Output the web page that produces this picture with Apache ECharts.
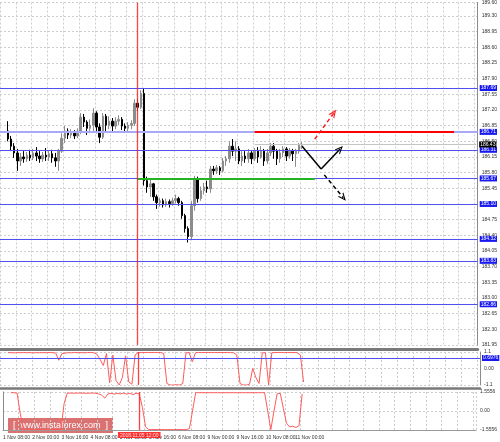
<!DOCTYPE html>
<html><head><meta charset="utf-8">
<script src="https://cdn.jsdelivr.net/npm/echarts@6/dist/echarts.min.js"></script>
<style>html,body{margin:0;padding:0;background:#fff}#c{width:500px;height:442px}</style>
</head><body><div id="c"></div>
<script>
// ---------- data ----------
const categoryCount = 151;
const candleStart = 2;
// [open, close, low, high]
const ohlc = [
[186.73,186.55,186.50,186.95],[186.55,186.39,186.28,186.62],[186.39,186.24,186.13,186.46],[186.24,186.06,185.84,186.33],
[186.06,186.15,185.95,186.24],[186.15,186.11,186.02,186.28],[186.11,186.19,186.04,186.26],[186.19,186.13,186.06,186.31],
[186.13,186.24,186.08,186.33],[186.24,186.17,186.06,186.37],[186.17,186.11,186.02,186.28],[186.11,186.19,186.04,186.26],
[186.19,186.15,186.06,186.35],[186.15,186.22,186.06,186.28],[186.22,186.13,186.02,186.31],[186.13,186.06,185.93,186.24],
[186.06,186.28,185.84,186.33],[186.28,186.57,186.24,186.68],[186.57,186.73,186.46,186.84],[186.73,186.64,186.55,186.79],
[186.64,186.68,186.57,186.77],[186.68,186.62,186.55,186.75],[186.62,186.73,186.57,186.79],[186.73,187.04,186.66,187.13],
[187.04,186.93,186.82,187.11],[186.93,186.79,186.64,186.97],[186.79,186.86,186.68,186.99],[186.86,187.13,186.73,187.24],
[187.13,186.82,186.68,187.17],[186.82,186.59,186.46,186.90],[186.59,187.06,186.55,187.13],[187.06,186.86,186.73,187.11],
[186.86,186.95,186.77,187.06],[186.95,186.84,186.73,187.02],[186.84,186.95,186.77,187.04],[186.95,186.99,186.86,187.08],
[186.99,186.84,186.75,187.04],[186.84,186.79,186.70,186.90],[186.79,186.86,186.73,186.93],[186.86,186.90,186.77,186.97],
[186.90,187.35,186.84,187.44],[187.35,187.26,187.17,187.44],[187.26,187.57,187.22,187.64],[187.57,185.62,185.51,187.68],
[185.62,185.48,185.35,185.71],[185.48,185.55,185.26,185.66],[185.55,185.26,185.17,185.57],[185.26,185.13,184.99,185.31],
[185.13,185.17,185.04,185.24],[185.17,185.08,185.02,185.22],[185.08,185.15,185.04,185.22],[185.15,185.11,185.02,185.20],
[185.11,185.17,185.06,185.24],[185.17,185.22,185.11,185.31],[185.22,185.13,185.06,185.26],[185.13,184.84,184.77,185.17],
[184.84,184.55,184.46,184.88],[184.55,184.37,184.24,184.60],[184.37,185.06,184.29,185.17],[185.06,185.66,184.95,185.73],
[185.66,185.22,185.13,185.71],[185.22,185.40,185.17,185.49],[185.40,185.48,185.31,185.57],[185.48,185.44,185.35,185.62],
[185.44,185.88,185.35,185.95],[185.88,185.84,185.75,185.95],[185.84,185.91,185.77,185.97],[185.91,185.84,185.75,185.95],
[185.84,186.06,185.80,186.13],[186.06,186.11,185.95,186.17],[186.11,186.39,186.02,186.50],[186.39,186.28,186.17,186.55],
[186.28,186.33,186.06,186.50],[186.33,186.06,185.99,186.39],[186.06,186.17,185.95,186.28],[186.17,186.11,186.02,186.28],
[186.11,186.24,186.02,186.33],[186.24,186.11,185.99,186.28],[186.11,186.28,186.06,186.35],[186.28,186.15,186.02,186.37],
[186.15,186.28,186.11,186.39],[186.28,186.06,185.95,186.33],[186.06,186.24,185.99,186.33],[186.24,186.39,186.17,186.46],
[186.39,186.28,186.11,186.46],[186.28,186.11,185.97,186.33],[186.11,186.24,186.02,186.33],[186.24,186.33,186.15,186.39],
[186.33,186.17,186.06,186.37],[186.17,186.28,186.11,186.35],[186.28,186.22,186.06,186.33],[186.22,186.28,185.93,186.33],
[186.28,186.41,186.22,186.46],[186.41,186.43,186.33,186.48]
];
const osc1 = [
1.05,1.06,1.04,1.06,1.05,1.07,1.05,1.06,1.04,1.06,1.05,1.06,1.05,1.07,1.05,1.04,0.55,1.0,1.02,1.06,
1.05,1.07,1.05,1.06,1.05,1.06,1.07,1.05,0.95,0.6,0.2,1.0,-0.95,0.9,-0.8,-1.1,-0.6,0.85,-0.9,-1.05,
0.9,1.06,1.07,1.06,1.07,1.06,1.07,1.06,1.07,1.0,-1.0,-1.1,-1.1,-1.08,-1.1,-1.0,1.05,1.06,0.45,1.05,
1.07,1.06,1.07,1.07,1.06,1.07,1.06,1.07,1.06,1.07,1.06,1.05,0.9,-1.0,-1.1,-1.1,-1.05,0.0,-0.6,-1.0,
1.05,1.05,-1.1,1.05,1.06,1.07,1.07,1.06,1.07,1.06,1.07,1.05,0.9,-0.9
];
const osc2 = [
1.5,1.5,1.45,-0.2,-1.52,-1.52,-1.52,-1.52,-1.52,-1.52,-1.52,-1.52,-1.52,-1.52,-1.52,-1.52,-1.52,0.6,1.45,1.47,
1.45,1.47,1.46,1.47,1.45,1.46,1.47,1.45,1.4,1.3,1.05,1.4,1.45,1.38,1.45,1.4,1.47,1.38,1.45,1.35,
1.45,1.4,0.3,-1.3,-1.52,-1.52,-1.52,-1.52,-1.52,-1.52,-1.52,-1.52,-1.52,-1.52,-1.52,-1.52,-1.52,-1.45,0.0,1.5,
1.5,1.5,1.5,1.5,1.5,1.5,1.5,1.5,1.5,1.5,1.5,1.5,1.5,1.5,1.5,1.5,1.5,1.5,1.5,1.5,
1.5,1.5,0.0,-1.52,0.0,1.4,1.45,0.2,-1.0,-1.3,-1.25,-1.35,-1.2,1.4
];
const levels = [187.69, 186.71, 186.31, 185.67, 185.10, 184.32, 183.83, 182.86];
const currentPrice = 186.43;
const eventIndex = 43;
const eventLabel = '2018.11.05 12:00';
const resistance = {from: 80, to: 143, value: 186.71};
const support = {from: 43, to: 99, value: 185.67};
const mainPath = [[95, 186.39], [101, 185.88], [107, 186.33]];
const downPath = [[102, 185.75], [108, 185.24]];
const upPath = [[99, 186.55], [105, 187.13]];
const osc1Level = 0.6976;
const timeLabels = ['1 Nov 08:00','2 Nov 00:00','3 Nov 16:00','4 Nov 08:00','5 Nov 00:00','5 Nov 16:00','6 Nov 08:00','9 Nov 00:00','9 Nov 16:00','10 Nov 08:00','11 Nov 00:00'];
const priceAxis = {min: 181.95, max: 189.60, step: 0.35};

// ---------- build ----------
const FONT = 'Liberation Sans';
const categories = Array.from({length: categoryCount}, (_, i) => String(i));
const pad = Array(candleStart).fill('-');
const candleData = pad.map(() => ['-','-','-','-']).concat(ohlc);
const osc1Data = pad.concat(osc1);
const osc2Data = pad.concat(osc2);
const labelStep = 30 / (486 / categoryCount);

const grid0 = {left: -6, right: 20, top: 0, height: 345};
const grid1 = {left: -6, right: 20, top: 352, height: 33};
const grid2 = {left: -6, right: 20, top: 392, height: 38};

const dashed = {show: true, lineStyle: {color: '#cdcdcd', type: [2, 2], width: 1}};
function catAxis(gi, lineColor, lineWidth, offset) {
  return {type: 'category', gridIndex: gi, data: categories, boundaryGap: true, position: 'bottom', offset: offset,
    axisLine: {show: true, onZero: false, lineStyle: {color: lineColor, width: lineWidth}},
    axisTick: {show: false}, axisLabel: {show: false},
    splitLine: Object.assign({interval: 4}, dashed)};
}
function valAxis(gi, min, max, interval, fmt) {
  return {type: 'value', gridIndex: gi, position: 'right', min: min, max: max, interval: interval,
    axisLine: {show: true, lineStyle: {color: '#8a8a8a', width: 1}},
    axisTick: {show: false},
    axisLabel: {fontSize: 5, fontFamily: FONT, color: '#333', margin: 4, formatter: fmt},
    splitLine: dashed};
}
const arrowHead = 'path://M5,0 L10,10 L8.3,10 L5,3.4 L1.7,10 L0,10 Z';
function seg(a, b, arrow) {
  return [{coord: a, symbol: 'none'}, {coord: b, symbol: arrow ? arrowHead : 'none', symbolSize: [7, 8]}];
}
const redLine = {color: '#ff2020', width: 1.3, type: 'solid', opacity: 0.85};
function eventSeries(xi, yi, label) {
  return {
    type: 'line', xAxisIndex: xi, yAxisIndex: yi, data: [], z: 3,
    markLine: {silent: true, symbol: 'none', animation: false, lineStyle: redLine,
      label: label ? {show: true, position: 'start', distance: 2, formatter: eventLabel, backgroundColor: '#ff1010', color: '#fff',
        fontSize: 5, fontFamily: FONT, padding: [1, 2, 0, 2]} : {show: false},
      data: [{xAxis: eventIndex}]}
  };
}
function levelSeries(value, style) {
  return {
    type: 'line', xAxisIndex: 0, yAxisIndex: 0, data: [], z: 3,
    markLine: {silent: true, symbol: 'none', animation: false, lineStyle: style,
      label: {show: true, position: 'end', distance: 2, formatter: value.toFixed(2), backgroundColor: '#1818f0', color: '#fff',
        fontSize: 5, fontFamily: FONT, padding: [1, 1, 0, 1]},
      data: [{yAxis: value}]}
  };
}
const levelSeriesList = levels.map(v => levelSeries(v,
  v === resistance.value ? {color: '#a9a9f5', width: 2, type: 'solid'} : {color: '#5050f0', width: 1, type: 'solid'}));

const option = {
  animation: false,
  backgroundColor: '#ffffff',
  grid: [grid0, grid1, grid2],
  xAxis: [
    catAxis(0, '#7a7a7a', 3, 4),
    catAxis(1, '#7a7a7a', 2.5, 3.5),
    catAxis(2, '#9a9a9a', 1, 0),
    {type: 'value', gridIndex: 2, position: 'bottom', min: 0, max: categoryCount, interval: labelStep,
      axisLine: {show: false, onZero: false}, axisTick: {show: false}, splitLine: {show: false},
      axisLabel: {show: true, align: 'left', fontSize: 5, fontFamily: FONT, color: '#333', margin: 5,
        showMaxLabel: false,
        formatter: v => { const i = Math.round(v / labelStep); return timeLabels[i] || ''; }}}
  ],
  yAxis: [
    valAxis(0, priceAxis.min, priceAxis.max, priceAxis.step, v => v.toFixed(2)),
    valAxis(1, -1.1, 1.1, 1.1, v => Math.abs(v) < 1e-6 ? '0.00' : String(Math.round(v * 10) / 10)),
    valAxis(2, -1.5556, 1.5556, 1.5556, v => Math.abs(v) < 1e-6 ? '0.00' : v.toFixed(4))
  ],
  graphic: [{
    type: 'group', left: 8, top: 418, z: 100,
    children: [
      {type: 'rect', shape: {x: 0, y: 0, width: 105, height: 15}, style: {fill: 'rgba(205,60,60,0.72)'}},
      {type: 'text', style: {text: '[  www.instaforex.com  ]', x: 52.5, y: 7.5, align: 'center', verticalAlign: 'middle',
        textAlign: 'center', textVerticalAlign: 'middle', fill: '#ffffff', font: '9px "Liberation Sans"'}}
    ]
  }],
  series: levelSeriesList.concat([
    {
      type: 'line', xAxisIndex: 0, yAxisIndex: 0, data: [], z: 3,
      markLine: {silent: true, symbol: 'none', animation: false, label: {show: false},
        data: [
          [{coord: [80, currentPrice], lineStyle: {color: '#c4c4c4', width: 1, type: 'solid'}},
           {coord: [categoryCount - 1, currentPrice], label: {show: true, position: 'end', distance: 3, formatter: currentPrice.toFixed(2),
              backgroundColor: '#000', color: '#fff', fontSize: 5, fontFamily: FONT, padding: [1, 1, 0, 1]}}]
        ]}
    },
    {
      type: 'candlestick', xAxisIndex: 0, yAxisIndex: 0, data: candleData, barWidth: 2, z: 4,
      itemStyle: {color: '#8c8c8c', color0: '#000000', borderColor: '#8c8c8c', borderColor0: '#000000', borderWidth: 1}
    },
    {
      type: 'line', xAxisIndex: 0, yAxisIndex: 0, data: [], z: 5,
      markLine: {silent: true, symbol: 'none', animation: false, label: {show: false},
        lineStyle: {color: '#ff0000', width: 2, type: 'solid'},
        data: [[{coord: [resistance.from, resistance.value]}, {coord: [resistance.to, resistance.value]}]]}
    },
    {
      type: 'line', xAxisIndex: 0, yAxisIndex: 0, data: [], z: 5,
      markLine: {silent: true, symbol: 'none', animation: false, label: {show: false},
        lineStyle: {color: '#22b422', width: 2, type: 'solid'},
        data: [[{coord: [support.from, support.value]}, {coord: [support.to, support.value]}]]}
    },
    eventSeries(0, 0, false),
    {
      type: 'line', xAxisIndex: 0, yAxisIndex: 0, data: [],
      markLine: {silent: true, animation: false, label: {show: false},
        lineStyle: {color: '#000', width: 1.5, type: 'solid'},
        data: [seg(mainPath[0], mainPath[1], false), seg(mainPath[1], mainPath[2], true)]}
    },
    {
      type: 'line', xAxisIndex: 0, yAxisIndex: 0, data: [],
      markLine: {silent: true, animation: false, label: {show: false},
        lineStyle: {color: '#000', width: 1.5, type: [4, 3]},
        data: [seg(downPath[0], downPath[1], true)]}
    },
    {
      type: 'line', xAxisIndex: 0, yAxisIndex: 0, data: [],
      markLine: {silent: true, animation: false, label: {show: false},
        lineStyle: {color: '#ff1a1a', width: 1.5, type: [4, 3]},
        data: [seg(upPath[0], upPath[1], true)]}
    },
    eventSeries(1, 1, false),
    {
      type: 'line', xAxisIndex: 1, yAxisIndex: 1, data: osc1Data, showSymbol: false,
      lineStyle: {color: '#ff5b5b', width: 1},
      markLine: {silent: true, symbol: 'none', animation: false,
        lineStyle: {color: '#5050f0', width: 1, type: 'solid'},
        label: {show: true, position: 'end', distance: 2, formatter: osc1Level.toFixed(4), backgroundColor: '#1818f0', color: '#fff',
          fontSize: 5, fontFamily: FONT, padding: [1, 1, 0, 1]},
        data: [{yAxis: osc1Level}]}
    },
    eventSeries(2, 2, true),
    {
      type: 'line', xAxisIndex: 2, yAxisIndex: 2, data: osc2Data, showSymbol: false,
      lineStyle: {color: '#ff5b5b', width: 1}
    }
  ])
};
const chart = echarts.init(document.getElementById('c'), null, {renderer: 'canvas'});
chart.setOption(option);
</script></body></html>
